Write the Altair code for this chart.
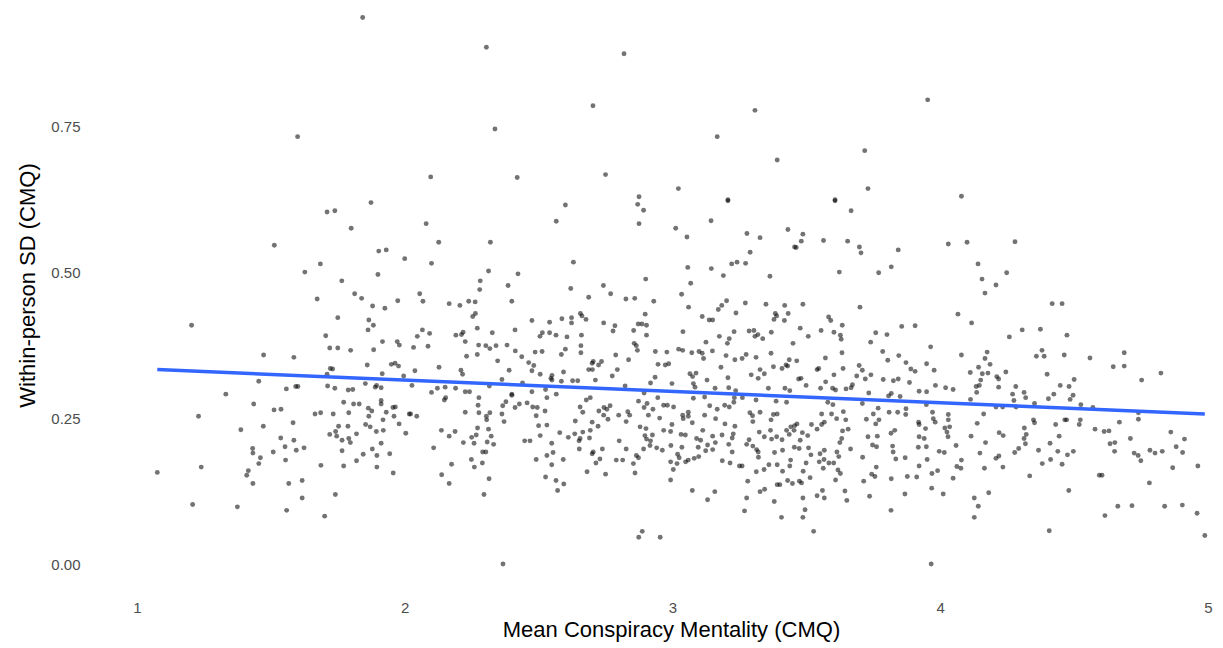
import altair as alt
import pandas as pd

# ---- values (x = mean CMQ, y = within-person SD) ----
x_t1 = [1.843, 1.60]
y_t1 = [0.936, 0.732]

x_t2 = [2.305, 2.819, 2.703, 2.337, 2.097, 2.42, 2.75, 2.875, 3.022]
y_t2 = [0.885, 0.874, 0.785, 0.745, 0.663, 0.662, 0.667, 0.629, 0.643]

x_t3 = [3.308, 3.167, 3.391, 3.718, 3.953, 3.73, 3.207, 3.607, 4.079]
y_t3 = [0.777, 0.732, 0.692, 0.708, 0.795, 0.643, 0.624, 0.624, 0.630]

x_t5 = [1.874, 1.71, 1.739, 1.80, 1.513, 1.903, 1.931, 2.0, 1.685, 1.627,
        1.90, 1.765, 1.813, 1.839, 1.673, 1.974, 1.88, 1.926, 1.75, 1.204,
        1.866, 1.883, 1.863, 1.705, 1.917, 1.972, 1.98, 1.72, 1.75, 1.798,
        1.884, 1.473, 1.586, 1.86, 1.95, 1.964, 1.977, 1.722, 1.731, 1.71,
        1.916, 1.996, 1.455, 1.558, 1.593, 1.601, 1.712, 1.739, 1.789, 1.806,
        1.853, 1.89, 1.895, 1.912, 1.332]
y_t5 = [0.619, 0.603, 0.605, 0.575, 0.546, 0.536, 0.538, 0.523, 0.514, 0.50,
        0.496, 0.485, 0.463, 0.455, 0.454, 0.451, 0.442, 0.438, 0.422, 0.409,
        0.418, 0.409, 0.401, 0.391, 0.381, 0.381, 0.375, 0.37, 0.37, 0.366,
        0.367, 0.358, 0.354, 0.341, 0.342, 0.344, 0.339, 0.335, 0.334, 0.325,
        0.326, 0.322, 0.313, 0.30, 0.304, 0.304, 0.305, 0.301, 0.298, 0.299,
        0.309, 0.303, 0.306, 0.302, 0.291]

x_t6 = [2.60, 2.87, 2.892, 2.08, 2.566, 2.875, 3.012, 2.127, 2.32, 2.10,
        2.63, 2.313, 2.423, 2.90, 2.282, 2.28, 2.386, 2.62, 2.742, 2.769,
        2.056, 2.068, 2.166, 2.206, 2.239, 2.263, 2.40, 2.687, 2.826, 2.859,
        2.93, 2.264, 2.254, 2.656, 2.662, 2.677, 2.898, 2.475, 2.541, 2.587,
        2.623, 2.623, 2.743, 2.785, 2.872, 2.886, 2.903, 2.066, 2.093, 2.047,
        2.218, 2.212, 2.191, 2.271, 2.327, 2.412, 2.514, 2.505, 2.541, 2.565,
        2.606, 2.66, 2.778, 2.855, 2.903, 2.226, 2.033, 2.087, 2.276, 2.303,
        2.318, 2.341, 2.382, 2.413, 2.231, 2.271, 2.437, 2.487, 2.513, 2.585,
        2.60, 2.658, 2.658, 2.857, 2.865, 2.869, 2.936, 2.979, 2.788, 3.023,
        2.347, 2.463, 2.482, 2.704, 2.70, 2.735, 2.724, 2.836, 2.946, 2.973,
        2.986, 2.128, 2.038, 2.21, 2.216, 2.39, 2.475, 2.506, 2.55, 2.546,
        2.593, 2.687, 2.701, 2.794, 2.775, 2.935, 2.363, 2.55, 2.627, 2.646,
        2.712, 2.918, 2.998, 2.027, 2.122, 2.151, 2.19, 2.316, 2.44, 2.526,
        2.585, 2.823, 2.10, 2.226, 2.242, 2.40, 2.475, 2.566, 2.894]
y_t6 = [0.615, 0.616, 0.606, 0.583, 0.587, 0.583, 0.575, 0.551, 0.551, 0.515,
        0.517, 0.502, 0.497, 0.488, 0.485, 0.47, 0.477, 0.472, 0.477, 0.463,
        0.463, 0.45, 0.446, 0.443, 0.45, 0.449, 0.45, 0.457, 0.454, 0.455,
        0.45, 0.429, 0.424, 0.429, 0.425, 0.419, 0.428, 0.417, 0.414, 0.42,
        0.422, 0.413, 0.413, 0.408, 0.411, 0.411, 0.409, 0.401, 0.395, 0.39,
        0.397, 0.393, 0.392, 0.404, 0.396, 0.401, 0.396, 0.39, 0.396, 0.392,
        0.389, 0.392, 0.399, 0.40, 0.392, 0.381, 0.371, 0.373, 0.375, 0.374,
        0.369, 0.374, 0.375, 0.365, 0.356, 0.359, 0.355, 0.363, 0.364, 0.359,
        0.368, 0.374, 0.362, 0.378, 0.374, 0.366, 0.364, 0.363, 0.358, 0.368,
        0.348, 0.345, 0.34, 0.347, 0.344, 0.347, 0.341, 0.35, 0.342, 0.341,
        0.343, 0.337, 0.331, 0.332, 0.325, 0.332, 0.331, 0.325, 0.323, 0.318,
        0.329, 0.333, 0.333, 0.333, 0.322, 0.32, 0.316, 0.315, 0.314, 0.314,
        0.315, 0.31, 0.309, 0.306, 0.301, 0.303, 0.301, 0.305, 0.31, 0.299,
        0.313, 0.305, 0.294, 0.295, 0.295, 0.291, 0.295, 0.291, 0.293]

x_t7 = [3.207, 3.607, 3.667, 3.144, 3.054, 3.278, 3.327, 3.431, 3.487, 3.481,
        3.456, 3.462, 3.564, 3.654, 3.698, 3.704, 3.843, 4.03, 3.29, 3.057,
        3.145, 3.19, 3.221, 3.241, 3.273, 3.364, 3.623, 3.77, 3.817, 3.068,
        3.034, 3.06, 3.171, 3.184, 3.202, 3.237, 3.272, 3.349, 3.419, 3.432,
        3.487, 3.70, 3.111, 3.137, 3.15, 3.384, 3.389, 3.379, 3.418, 3.583,
        3.591, 3.634, 3.856, 3.906, 3.039, 3.23, 3.286, 3.304, 3.319, 3.308,
        3.337, 3.369, 3.477, 3.507, 3.555, 3.603, 3.627, 3.63, 3.759, 3.801,
        3.74, 3.175, 3.212, 3.205, 3.125, 3.45, 3.038, 3.072, 3.099, 3.111,
        3.149, 3.116, 3.20, 3.233, 3.26, 3.275, 3.312, 3.368, 3.436, 3.464,
        3.571, 3.633, 3.785, 3.804, 3.845, 3.872, 3.964, 3.949, 3.977, 3.181,
        3.327, 3.377, 3.409, 3.424, 3.43, 3.54, 3.546, 3.637, 3.697, 3.709,
        3.89, 3.906, 3.065, 3.075, 3.088, 3.294, 3.32, 3.343, 3.207, 3.471,
        3.48, 3.603, 3.688, 3.72, 3.741, 3.787, 3.825, 3.843, 3.885, 3.129,
        3.078, 3.084, 3.159, 3.21, 3.236, 3.358, 3.42, 3.438, 3.499, 3.553,
        3.572, 3.598, 3.609, 3.648, 3.667, 3.672, 3.733, 3.817, 3.921, 3.949,
        3.982, 4.02]
y_t7 = [0.622, 0.622, 0.605, 0.588, 0.56, 0.566, 0.559, 0.573, 0.565, 0.553,
        0.543, 0.542, 0.554, 0.553, 0.543, 0.533, 0.538, 0.548, 0.534, 0.508,
        0.506, 0.494, 0.514, 0.517, 0.515, 0.493, 0.50, 0.499, 0.509, 0.481,
        0.462, 0.44, 0.436, 0.443, 0.451, 0.43, 0.447, 0.445, 0.443, 0.429,
        0.445, 0.44, 0.424, 0.418, 0.418, 0.429, 0.425, 0.419, 0.417, 0.423,
        0.417, 0.409, 0.407, 0.408, 0.398, 0.398, 0.399, 0.40, 0.393, 0.39,
        0.386, 0.397, 0.404, 0.39, 0.40, 0.397, 0.392, 0.385, 0.396, 0.393,
        0.38, 0.39, 0.386, 0.378, 0.38, 0.378, 0.366, 0.362, 0.364, 0.361,
        0.365, 0.352, 0.357, 0.35, 0.352, 0.359, 0.354, 0.361, 0.35, 0.348,
        0.353, 0.362, 0.364, 0.349, 0.357, 0.345, 0.372, 0.343, 0.332, 0.337,
        0.333, 0.338, 0.335, 0.341, 0.339, 0.333, 0.335, 0.335, 0.34, 0.332,
        0.334, 0.33, 0.326, 0.321, 0.327, 0.324, 0.318, 0.326, 0.319, 0.317,
        0.318, 0.324, 0.322, 0.317, 0.324, 0.316, 0.314, 0.317, 0.311, 0.315,
        0.309, 0.303, 0.301, 0.302, 0.297, 0.301, 0.301, 0.297, 0.306, 0.301,
        0.312, 0.301, 0.298, 0.30, 0.302, 0.307, 0.293, 0.292, 0.296, 0.295,
        0.306, 0.302]

x_t8 = [4.10, 4.279, 4.141, 4.156, 4.248, 4.208, 4.167, 4.418, 4.455, 4.066,
        4.117, 4.306, 4.374, 4.258, 4.473, 4.079, 4.175, 4.167, 4.186, 4.143,
        4.112, 4.157, 4.178, 4.211, 4.218, 4.245, 4.151, 4.146, 4.134, 4.136,
        4.048, 4.218, 4.282, 4.313, 4.27, 4.38, 4.359, 4.388, 4.463, 4.559,
        4.687, 4.687, 4.646, 4.824, 4.752, 4.399, 4.50, 4.448, 4.481, 4.424,
        4.496]
y_t8 = [0.551, 0.552, 0.514, 0.488, 0.499, 0.478, 0.464, 0.446, 0.446, 0.428,
        0.413, 0.401, 0.402, 0.389, 0.392, 0.358, 0.363, 0.352, 0.342, 0.337,
        0.328, 0.326, 0.327, 0.321, 0.317, 0.329, 0.315, 0.306, 0.304, 0.294,
        0.299, 0.303, 0.304, 0.294, 0.291, 0.366, 0.356, 0.356, 0.358, 0.353,
        0.362, 0.339, 0.338, 0.327, 0.315, 0.325, 0.316, 0.306, 0.304, 0.291,
        0.289]

x_t9 = [1.436, 1.512, 1.538, 1.23, 1.388, 1.472, 1.583, 1.665, 1.686, 1.733,
        1.772, 1.791, 1.809, 1.83, 1.864, 1.877, 1.866, 1.912, 1.912, 1.931,
        1.956, 1.965, 1.96, 1.919, 2.017, 1.753, 1.788, 1.854, 1.871, 1.979,
        1.742, 1.72, 1.746, 1.82, 1.894, 1.92, 2.004, 1.537, 1.586, 1.766,
        1.791, 1.797, 1.912, 1.432, 1.433, 1.553, 1.595, 1.624, 1.509, 1.766,
        1.879, 1.845, 1.896, 1.944, 1.461, 1.455, 1.555, 1.82, 1.687, 1.772,
        1.896, 1.957, 1.076, 1.24, 1.416, 1.41, 1.433, 1.567, 1.617, 1.617,
        1.741, 1.208, 1.375, 1.559, 1.701]
y_t9 = [0.274, 0.264, 0.265, 0.253, 0.23, 0.236, 0.242, 0.257, 0.259, 0.257,
        0.277, 0.259, 0.274, 0.274, 0.267, 0.262, 0.253, 0.28, 0.274, 0.26,
        0.268, 0.269, 0.253, 0.247, 0.257, 0.236, 0.236, 0.239, 0.235, 0.24,
        0.227, 0.222, 0.219, 0.223, 0.227, 0.229, 0.224, 0.216, 0.212, 0.212,
        0.215, 0.208, 0.207, 0.198, 0.19, 0.201, 0.195, 0.199, 0.192, 0.194,
        0.197, 0.188, 0.186, 0.189, 0.182, 0.172, 0.178, 0.177, 0.169, 0.168,
        0.166, 0.156, 0.157, 0.166, 0.16, 0.152, 0.138, 0.138, 0.143, 0.113,
        0.119, 0.102, 0.098, 0.092, 0.082]

x_t10 = [2.148, 2.153, 2.277, 2.274, 2.277, 2.226, 2.022, 2.045, 2.137, 2.166,
         2.188, 2.108, 2.219, 2.25, 2.267, 2.259, 2.272, 2.305, 2.306, 2.318,
         2.313, 2.323, 2.308, 2.332, 2.291, 2.303, 2.249, 2.29, 2.26, 2.175,
         2.138, 2.166, 2.315, 2.296, 2.40, 2.378, 2.366, 2.363, 2.371, 2.412,
         2.428, 2.457, 2.478, 2.495, 2.531, 2.524, 2.491, 2.50, 2.531, 2.506,
         2.448, 2.468, 2.549, 2.554, 2.531, 2.491, 2.549, 2.592, 2.526, 2.565,
         2.594, 2.571, 2.579, 2.611, 2.635, 2.637, 2.651, 2.655, 2.665, 2.652,
         2.655, 2.665, 2.678, 2.693, 2.70, 2.693, 2.69, 2.722, 2.725, 2.744,
         2.755, 2.767, 2.743, 2.759, 2.704, 2.70, 2.738, 2.729, 2.714, 2.681,
         2.75, 2.799, 2.833, 2.84, 2.827, 2.801, 2.827, 2.79, 2.814, 2.854,
         2.865, 2.873, 2.86, 2.873, 2.894, 2.905, 2.91, 2.927, 2.945, 2.952,
         2.967, 2.981, 3.004, 2.879, 2.901, 2.897, 2.903, 2.918, 2.916, 2.892,
         2.925, 2.941, 2.962, 2.967, 2.993, 2.998, 2.994, 3.019, 2.993, 3.017,
         3.003, 2.993, 2.887, 2.874, 2.954, 2.367]
y_t10 = [0.281, 0.285, 0.285, 0.272, 0.259, 0.26, 0.257, 0.253, 0.229, 0.219,
         0.227, 0.199, 0.208, 0.217, 0.221, 0.207, 0.233, 0.253, 0.247, 0.259,
         0.231, 0.219, 0.209, 0.205, 0.192, 0.192, 0.179, 0.173, 0.166, 0.171,
         0.153, 0.138, 0.146, 0.119, 0.289, 0.278, 0.271, 0.257, 0.244, 0.268,
         0.274, 0.276, 0.269, 0.268, 0.285, 0.262, 0.254, 0.237, 0.238, 0.22,
         0.211, 0.211, 0.207, 0.191, 0.186, 0.179, 0.17, 0.179, 0.149, 0.143,
         0.137, 0.126, 0.225, 0.217, 0.223, 0.245, 0.211, 0.215, 0.226, 0.197,
         0.269, 0.26, 0.281, 0.285, 0.243, 0.229, 0.216, 0.236, 0.262, 0.268,
         0.265, 0.271, 0.255, 0.248, 0.192, 0.189, 0.197, 0.18, 0.173, 0.158,
         0.154, 0.255, 0.261, 0.255, 0.244, 0.211, 0.197, 0.178, 0.178, 0.172,
         0.186, 0.182, 0.156, 0.279, 0.268, 0.275, 0.255, 0.265, 0.285, 0.25,
         0.272, 0.272, 0.269, 0.235, 0.232, 0.22, 0.214, 0.211, 0.203, 0.197,
         0.221, 0.199, 0.195, 0.229, 0.227, 0.239, 0.203, 0.188, 0.175, 0.172,
         0.162, 0.144, 0.056, 0.046, 0.046, 0.0]

x_t11 = [3.078, 3.12, 3.038, 3.04, 3.059, 3.059, 3.074, 3.12, 3.139, 3.167,
         3.195, 3.212, 3.229, 3.231, 3.261, 3.312, 3.161, 3.196, 3.233, 3.289,
         3.299, 3.30, 3.327, 3.377, 3.391, 3.368, 3.387, 3.426, 3.032, 3.048,
         3.113, 3.09, 3.105, 3.15, 3.185, 3.227, 3.223, 3.324, 3.343, 3.366,
         3.37, 3.409, 3.389, 3.426, 3.436, 3.442, 3.454, 3.456, 3.465, 3.485,
         3.505, 3.519, 3.54, 3.557, 3.557, 3.567, 3.58, 3.599, 3.594, 3.613,
         3.638, 3.647, 3.635, 3.656, 3.632, 3.625, 3.477, 3.035, 3.025, 3.049,
         3.059, 3.081, 3.098, 3.096, 3.124, 3.131, 3.15, 3.16, 3.186, 3.215,
         3.21, 3.223, 3.25, 3.26, 3.277, 3.286, 3.30, 3.314, 3.32, 3.321,
         3.342, 3.313, 3.36, 3.381, 3.391, 3.411, 3.411, 3.438, 3.441, 3.455,
         3.473, 3.488, 3.499, 3.508, 3.517, 3.514, 3.548, 3.551, 3.566, 3.567,
         3.563, 3.584, 3.602, 3.614, 3.621, 3.618, 3.627, 3.609, 3.665, 3.71,
         3.73, 3.747, 3.762, 3.765, 3.759, 3.771, 3.724, 3.75, 3.768, 3.709,
         3.809, 3.841, 3.871, 3.872, 3.85, 3.807, 3.816, 3.83, 3.822, 3.824,
         3.834, 3.869, 3.761, 3.744, 3.756, 3.714, 3.817, 3.877, 3.912, 3.921,
         3.918, 3.921, 3.948, 3.94, 3.951, 3.919, 3.921, 3.945, 3.971, 3.974,
         3.981, 3.948, 3.996, 4.015, 3.99, 3.969, 3.968, 4.011, 3.074, 3.158,
         3.131, 3.269, 3.277, 3.281, 3.327, 3.344, 3.38, 3.391, 3.401, 3.43,
         3.448, 3.474, 3.482, 3.407, 3.487, 3.495, 3.487, 3.527, 3.54, 3.56,
         3.567, 3.644, 3.651, 3.736, 3.816, 3.868, 3.966]
y_t11 = [0.284, 0.286, 0.255, 0.249, 0.26, 0.253, 0.242, 0.255, 0.271, 0.265,
         0.272, 0.269, 0.277, 0.285, 0.285, 0.281, 0.249, 0.24, 0.236, 0.259,
         0.254, 0.244, 0.26, 0.256, 0.257, 0.247, 0.279, 0.277, 0.222, 0.221,
         0.229, 0.215, 0.212, 0.219, 0.221, 0.223, 0.216, 0.226, 0.218, 0.229,
         0.214, 0.213, 0.218, 0.229, 0.222, 0.235, 0.229, 0.237, 0.24, 0.225,
         0.22, 0.239, 0.231, 0.257, 0.239, 0.243, 0.277, 0.273, 0.257, 0.249,
         0.261, 0.247, 0.228, 0.231, 0.215, 0.208, 0.212, 0.20, 0.182, 0.175,
         0.178, 0.181, 0.184, 0.20, 0.194, 0.204, 0.196, 0.208, 0.177, 0.173,
         0.205, 0.192, 0.168, 0.168, 0.205, 0.213, 0.202, 0.196, 0.192, 0.183,
         0.162, 0.158, 0.17, 0.191, 0.17, 0.195, 0.159, 0.168, 0.178, 0.20,
         0.198, 0.159, 0.173, 0.199, 0.187, 0.148, 0.175, 0.189, 0.179, 0.195,
         0.164, 0.173, 0.173, 0.192, 0.184, 0.161, 0.155, 0.144, 0.197, 0.183,
         0.218, 0.204, 0.201, 0.219, 0.24, 0.247, 0.248, 0.257, 0.267, 0.275,
         0.26, 0.26, 0.256, 0.266, 0.287, 0.288, 0.224, 0.229, 0.202, 0.192,
         0.18, 0.182, 0.166, 0.154, 0.15, 0.142, 0.146, 0.15, 0.149, 0.168,
         0.20, 0.218, 0.201, 0.215, 0.179, 0.243, 0.239, 0.232, 0.26, 0.249,
         0.243, 0.273, 0.193, 0.191, 0.16, 0.155, 0.13, 0.12, 0.126, 0.124,
         0.11, 0.091, 0.113, 0.142, 0.124, 0.128, 0.107, 0.136, 0.136, 0.143,
         0.138, 0.142, 0.139, 0.08, 0.113, 0.093, 0.08, 0.056, 0.117, 0.126,
         0.113, 0.125, 0.109, 0.116, 0.092, 0.12, 0.0]

x_t12 = [4.113, 4.275, 4.319, 4.352, 4.404, 4.485, 4.525, 4.57, 4.74, 4.208,
         4.233, 4.283, 4.162, 4.03, 4.03, 4.017, 4.035, 4.025, 4.029, 4.138,
         4.348, 4.352, 4.314, 4.321, 4.313, 4.318, 4.431, 4.444, 4.465, 4.472,
         4.519, 4.523, 4.578, 4.612, 4.63, 4.669, 4.74, 4.71, 4.634, 4.652,
         4.651, 4.861, 4.912, 4.881, 4.905, 4.783, 4.802, 4.829, 4.724, 4.739,
         4.749, 4.868, 4.962, 4.781, 4.663, 4.716, 4.838, 4.904, 4.959, 4.988,
         4.615, 4.594, 4.604, 4.169, 4.115, 4.22, 4.235, 4.059, 4.148, 4.079,
         4.062, 4.077, 4.165, 4.208, 4.219, 4.234, 4.278, 4.293, 4.367, 4.41,
         4.439, 4.475, 4.497, 4.381, 4.412, 4.455, 4.048, 4.334, 4.181, 4.127,
         4.142, 4.127, 4.48, 4.407]
y_t12 = [0.282, 0.28, 0.285, 0.275, 0.283, 0.282, 0.273, 0.268, 0.259, 0.269,
         0.269, 0.269, 0.257, 0.256, 0.247, 0.233, 0.235, 0.226, 0.218, 0.241,
         0.247, 0.242, 0.233, 0.222, 0.215, 0.206, 0.239, 0.219, 0.247, 0.247,
         0.239, 0.247, 0.231, 0.227, 0.228, 0.243, 0.248, 0.215, 0.206, 0.208,
         0.193, 0.226, 0.214, 0.201, 0.191, 0.195, 0.19, 0.193, 0.19, 0.186,
         0.177, 0.165, 0.168, 0.139, 0.099, 0.10, 0.099, 0.101, 0.087, 0.049,
         0.083, 0.152, 0.152, 0.208, 0.219, 0.225, 0.22, 0.203, 0.19, 0.178,
         0.167, 0.164, 0.164, 0.181, 0.185, 0.166, 0.191, 0.198, 0.195, 0.207,
         0.193, 0.187, 0.193, 0.172, 0.179, 0.171, 0.147, 0.151, 0.122, 0.113,
         0.099, 0.08, 0.126, 0.057]

# fitted linear trend at its two ends
fit_x = [1.076, 4.988]
fit_y = [0.333, 0.257]

xs = [x_t1, x_t2, x_t3, x_t5, x_t6, x_t7, x_t8, x_t9, x_t10, x_t11, x_t12]
ys = [y_t1, y_t2, y_t3, y_t5, y_t6, y_t7, y_t8, y_t9, y_t10, y_t11, y_t12]
mean_cmq, sd_cmq = [], []
for a, b in zip(xs, ys):
    n = min(len(a), len(b))
    mean_cmq += a[:n]
    sd_cmq += b[:n]

points = pd.DataFrame({"mean": mean_cmq, "sd": sd_cmq})
fit = pd.DataFrame({"mean": fit_x, "sd": fit_y})

FONT = "Liberation Sans"
xscale = alt.Scale(domain=[0.806, 5.026], nice=False, zero=False)
yscale = alt.Scale(domain=[-0.053, 0.954], nice=False, zero=False)

common = dict(grid=False, domain=False, ticks=False, labelColor="#4D4D4D",
              labelFontSize=15, titleFontSize=22, titleFontWeight="normal",
              titleColor="#000000", labelFont=FONT, titleFont=FONT)

xaxis = alt.Axis(values=[1, 2, 3, 4, 5], format="d",
                 title="Mean Conspiracy Mentality (CMQ)",
                 labelPadding=5, titlePadding=4, titleX=586, **common)
yaxis = alt.Axis(values=[0, 0.25, 0.5, 0.75], format=".2f",
                 title="Within-person SD (CMQ)",
                 labelPadding=5, titlePadding=11, titleY=278, **common)

pts = alt.Chart(points).mark_circle(size=24, color="#000000", opacity=0.55).encode(
    x=alt.X("mean:Q", scale=xscale, axis=xaxis),
    y=alt.Y("sd:Q", scale=yscale, axis=yaxis),
)
line = alt.Chart(fit).mark_line(color="#3366FF", strokeWidth=3.5).encode(
    x=alt.X("mean:Q", scale=xscale),
    y=alt.Y("sd:Q", scale=yscale),
)

chart = (pts + line).properties(
    width=1130, height=588,
    autosize=alt.AutoSizeParams(type="none"),
    padding={"left": 85, "top": 7, "right": 8, "bottom": 53},
    background="white",
).configure_view(stroke=None)

chart.save("out.html", embed_options={"renderer": "svg", "actions": False})
